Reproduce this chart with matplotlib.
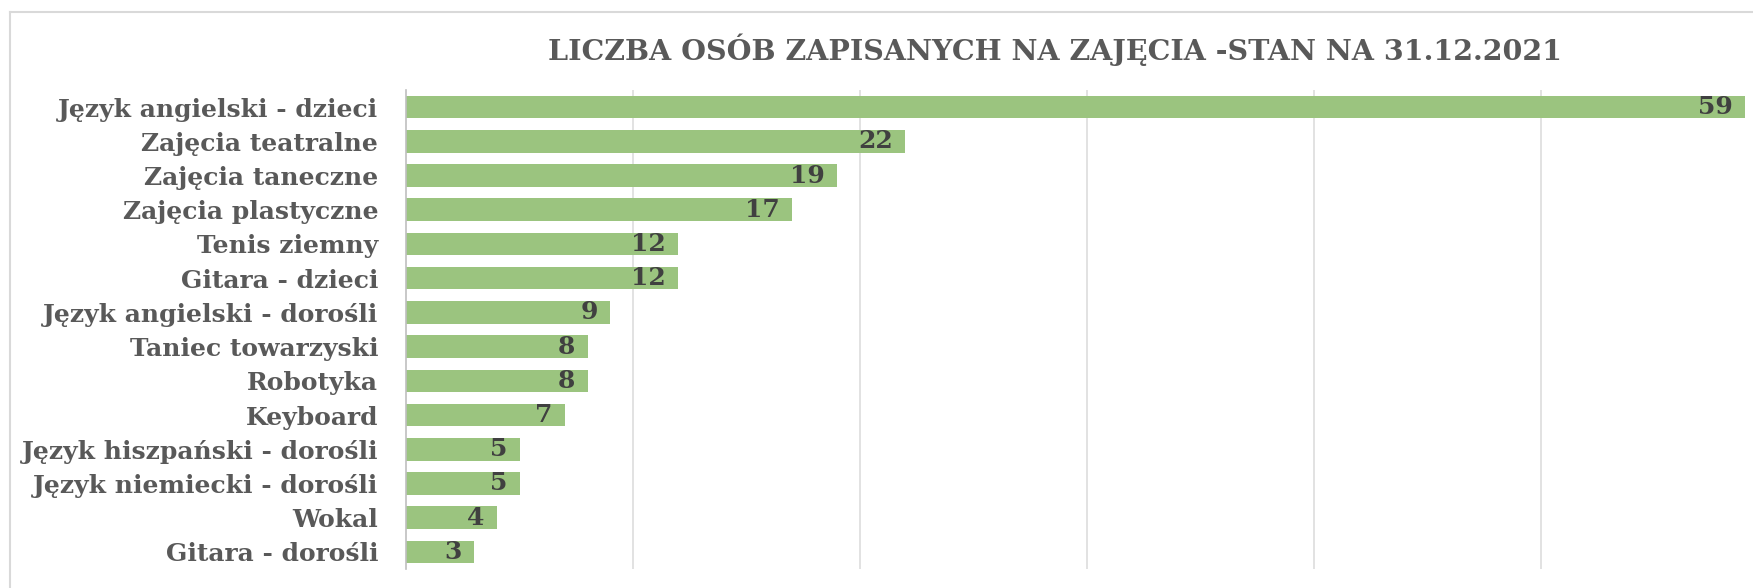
import matplotlib
matplotlib.use('Agg')
import matplotlib.pyplot as plt
from matplotlib.lines import Line2D

# --- Données ---
zajecia = ['Język angielski - dzieci', 'Zajęcia teatralne', 'Zajęcia taneczne',
           'Zajęcia plastyczne', 'Tenis ziemny', 'Gitara - dzieci',
           'Język angielski - dorośli', 'Taniec towarzyski', 'Robotyka',
           'Keyboard', 'Język hiszpański - dorośli', 'Język niemiecki - dorośli',
           'Wokal', 'Gitara - dorośli']
liczba_osob = [59, 22, 19, 17, 12, 12, 9, 8, 8, 7, 5, 5, 4, 3]

TYTUL = 'LICZBA OSÓB ZAPISANYCH NA ZAJĘCIA -STAN NA 31.12.2021'
ZIELONY = '#9BC47F'
SZARY = '#595959'

plt.rcParams['font.family'] = ['DejaVu Serif']

W, H = 1753, 588
fig = plt.figure(figsize=(W / 100, H / 100), dpi=100)

# ramka wykresu (ucięta z prawej i z dołu)
fig.add_artist(Line2D([10 / W, 10 / W], [0, 1 - 12 / H], transform=fig.transFigure,
                      color='#D9D9D9', linewidth=1.5))
fig.add_artist(Line2D([10 / W, 1], [1 - 12 / H, 1 - 12 / H], transform=fig.transFigure,
                      color='#D9D9D9', linewidth=1.5))

# obszar wykresu wychodzi poza prawą krawędź obrazu
ax = fig.add_axes([406 / W, 19 / H, 1362 / W, 479 / H])
y = list(range(len(zajecia)))
bars = ax.barh(y, liczba_osob, height=0.66, color=ZIELONY, zorder=2)
ax.set_ylim(len(zajecia) - 0.5, -0.5)
ax.set_xlim(0, 60)

ax.set_yticks(y)
ax.set_yticklabels(zajecia, fontsize=18, fontweight='bold', color=SZARY)
ax.tick_params(axis='y', length=0, pad=20)
ax.tick_params(axis='x', length=0, labelbottom=False)
ax.set_xticks([10, 20, 30, 40, 50, 60])
ax.grid(axis='x', color='#DDDDDD', linewidth=1.2, zorder=0)

for s in ['top', 'right', 'bottom']:
    ax.spines[s].set_visible(False)
ax.spines['left'].set_color('#BFBFBF')
ax.spines['left'].set_linewidth(1.2)
ax.spines['left'].set_zorder(3)

for i, v in enumerate(liczba_osob):
    ax.annotate(str(v), xy=(v, i), xytext=(-9, 0), textcoords='offset points',
                ha='right', va='center', fontsize=18, fontweight='bold',
                color='#404040', zorder=4)

fig.text(1055 / W, 1 - 50 / H, TYTUL, ha='center', va='center',
         fontsize=20.5, fontweight='bold', color=SZARY)

fig.savefig('out.png', dpi=100)
